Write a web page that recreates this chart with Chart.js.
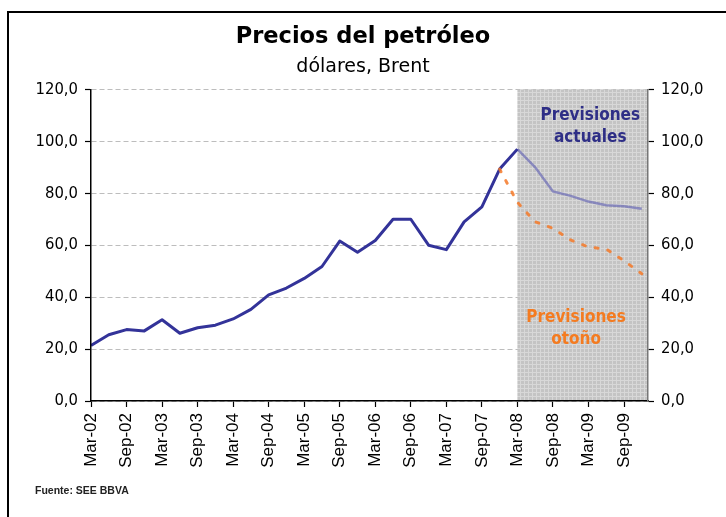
<!DOCTYPE html>
<html><head><meta charset="utf-8">
<script src="https://cdn.jsdelivr.net/npm/chart.js@4.4.1/dist/chart.umd.min.js"></script>
<style>html,body{margin:0;padding:0;background:#fff;}#wrap{width:726px;height:517px;position:relative;}</style>
</head><body><div id="wrap"><canvas id="c" width="726" height="517"></canvas></div>
<script>
// ---- data ----
const quarters = ['Mar-02','Jun-02','Sep-02','Dec-02','Mar-03','Jun-03','Sep-03','Dec-03',
  'Mar-04','Jun-04','Sep-04','Dec-04','Mar-05','Jun-05','Sep-05','Dec-05',
  'Mar-06','Jun-06','Sep-06','Dec-06','Mar-07','Jun-07','Sep-07','Dec-07',
  'Mar-08','Jun-08','Sep-08','Dec-08','Mar-09','Jun-09','Sep-09','Dec-09'];
// Brent, histórico (Mar-02 .. Mar-08)
const historico = [21.4,25.5,27.5,27.0,31.3,26.1,28.2,29.2,31.6,35.3,40.9,43.5,47.2,51.8,61.6,57.3,61.8,70.0,70.0,60.0,58.3,69.0,74.8,89.3,97.0];
// Previsiones actuales (Mar-08 .. Dec-09)
const actualesStart = 'Mar-08';
const previsionesActuales = [97.0,90.0,80.7,79.0,76.8,75.4,75.0,74.0];
// Previsiones otoño (Dec-07 .. Dec-09)
const otonoStart = 'Dec-07';
const previsionesOtono = [89.3,76.5,69.0,66.5,62.0,59.3,58.5,54.0,49.0];
// tick labels
const xTickLabels = ['Mar-02','Sep-02','Mar-03','Sep-03','Mar-04','Sep-04','Mar-05','Sep-05','Mar-06','Sep-06','Mar-07','Sep-07','Mar-08','Sep-08','Mar-09','Sep-09'];
const yTicks = [0,20,40,60,80,100,120];
const forecastFrom = 'Mar-08';
const titleText = 'Precios del petróleo';
const subtitleText = 'dólares, Brent';
const sourceText = 'Fuente: SEE BBVA';
const noteActuales = ['Previsiones','actuales'];
const noteOtono = ['Previsiones','otoño'];

// ---- build ----
const qi = q => quarters.indexOf(q);
const toPts = (arr, start) => arr.map((v,i)=>({x: start + i, y: v}));
const xTickIdx = xTickLabels.map(qi);

const condensed = '"DejaVu Sans Condensed", "DejaVu Sans", sans-serif';
const dejavu = '"DejaVu Sans", sans-serif';
const arial = '"Liberation Sans", Arial, sans-serif';

function makePattern(ctx){
  const p = document.createElement('canvas'); p.width = 4; p.height = 4;
  const c = p.getContext('2d');
  c.fillStyle = '#c4c4c4'; c.fillRect(0,0,4,4);
  c.fillStyle = '#d8d8d8'; c.fillRect(0,0,4,1); c.fillRect(0,0,1,4);
  return ctx.createPattern(p,'repeat');
}

const shadePlugin = {
  id:'shade',
  beforeDatasetsDraw(chart){
    const {ctx, chartArea:a, scales:{x}} = chart;
    const x0 = x.getPixelForValue(qi(forecastFrom));
    ctx.save();
    ctx.fillStyle = makePattern(ctx);
    ctx.fillRect(x0, a.top, a.right - x0, a.bottom - a.top);
    ctx.restore();
  }
};

const notesPlugin = {
  id:'notes',
  afterDatasetsDraw(chart, args, opts){
    const {ctx, scales:{x, y}} = chart;
    ctx.save();
    ctx.textAlign = 'center'; ctx.textBaseline = 'middle';
    ctx.font = 'bold 17px ' + condensed;
    opts.items.forEach(it=>{
      ctx.fillStyle = it.color;
      it.lines.forEach((t,i)=>{
        ctx.fillText(t, x.getPixelForValue(it.x), y.getPixelForValue(it.y) + i*it.lh);
      });
    });
    ctx.restore();
  }
};

const framePlugin = {
  id:'frame',
  afterDraw(chart){
    const ctx = chart.ctx;
    ctx.save();
    ctx.strokeStyle = '#000'; ctx.lineWidth = 2;
    ctx.beginPath();
    ctx.moveTo(8, 517); ctx.lineTo(8, 12); ctx.lineTo(726, 12);
    ctx.stroke();
    ctx.fillStyle = '#222';
    ctx.font = 'bold 10.5px ' + arial;
    ctx.textAlign = 'left'; ctx.textBaseline = 'middle';
    ctx.fillText(sourceText, 35, 491);
    ctx.restore();
  }
};

const fmt = v => Number(v).toFixed(1).replace('.', ',');

new Chart(document.getElementById('c'), {
  type:'line',
  data:{datasets:[
    {label:'Previsiones otoño', data: toPts(previsionesOtono, qi(otonoStart)), borderColor:'rgba(244,121,40,0.85)', borderWidth:3, borderDash:[3,10], borderCapStyle:'round', pointRadius:0, tension:0, order:0},
    {label:'Histórico', data: toPts(historico, 0), borderColor:'#333399', borderWidth:3, pointRadius:0, tension:0, borderJoinStyle:'round', order:1},
    {label:'Previsiones actuales', data: toPts(previsionesActuales, qi(actualesStart)), borderColor:'rgba(100,100,180,0.65)', borderWidth:2.5, pointRadius:0, tension:0, order:2}
  ]},
  options:{
    responsive:false, animation:false, devicePixelRatio:1,
    layout:{padding:0},
    plugins:{
      legend:{display:false}, tooltip:{enabled:false},
      title:{display:true, text:titleText, color:'#000', font:{family:dejavu, size:22.5, weight:'bold'}, padding:{top:23.5, bottom:2}},
      subtitle:{display:true, text:subtitleText, color:'#000', font:{family:dejavu, size:19}, padding:{top:3.5, bottom:10.6}},
      notes:{items:[
        {lines:noteActuales, x:28.1, y:110, lh:22, color:'#2e2e86'},
        {lines:noteOtono, x:27.3, y:32.2, lh:22, color:'#f47b20'}
      ]}
    },
    scales:{
      x:{type:'linear', min:0, max:31.35,
        afterBuildTicks:s=>{ s.ticks = xTickIdx.map(v=>({value:v})); },
        afterFit:s=>{ s.height = 116; },
        ticks:{autoSkip:false, minRotation:90, maxRotation:90, padding:6, color:'#000', font:{family:arial, size:17}, callback:v=>quarters[v]},
        grid:{display:true, drawOnChartArea:false, drawTicks:true, tickLength:6, tickColor:'#000', tickWidth:1.2},
        border:{display:true, color:'#000', width:1.5, z:1}},
      y:{position:'left', min:0, max:120,
        afterBuildTicks:s=>{ s.ticks = yTicks.map(v=>({value:v})); },
        afterFit:s=>{ s.width = 91; },
        ticks:{padding:7, color:'#000', font:{family:condensed, size:16.5}, callback:fmt},
        grid:{color:'#bdbdbd', lineWidth:1, drawTicks:true, tickLength:6, tickColor:'#000', tickWidth:1.2},
        border:{display:true, color:'#000', width:1.5, dash:[5,3], z:1}},
      y2:{position:'right', min:0, max:120,
        afterBuildTicks:s=>{ s.ticks = yTicks.map(v=>({value:v})); },
        afterFit:s=>{ s.width = 78; },
        ticks:{padding:7, color:'#000', font:{family:condensed, size:16.5}, callback:fmt},
        grid:{drawOnChartArea:false, drawTicks:true, tickLength:6, tickColor:'#000', tickWidth:1.2},
        border:{display:true, color:'#777', width:1.5, z:1}}
    }
  },
  plugins:[shadePlugin, notesPlugin, framePlugin]
});
</script></body></html>
